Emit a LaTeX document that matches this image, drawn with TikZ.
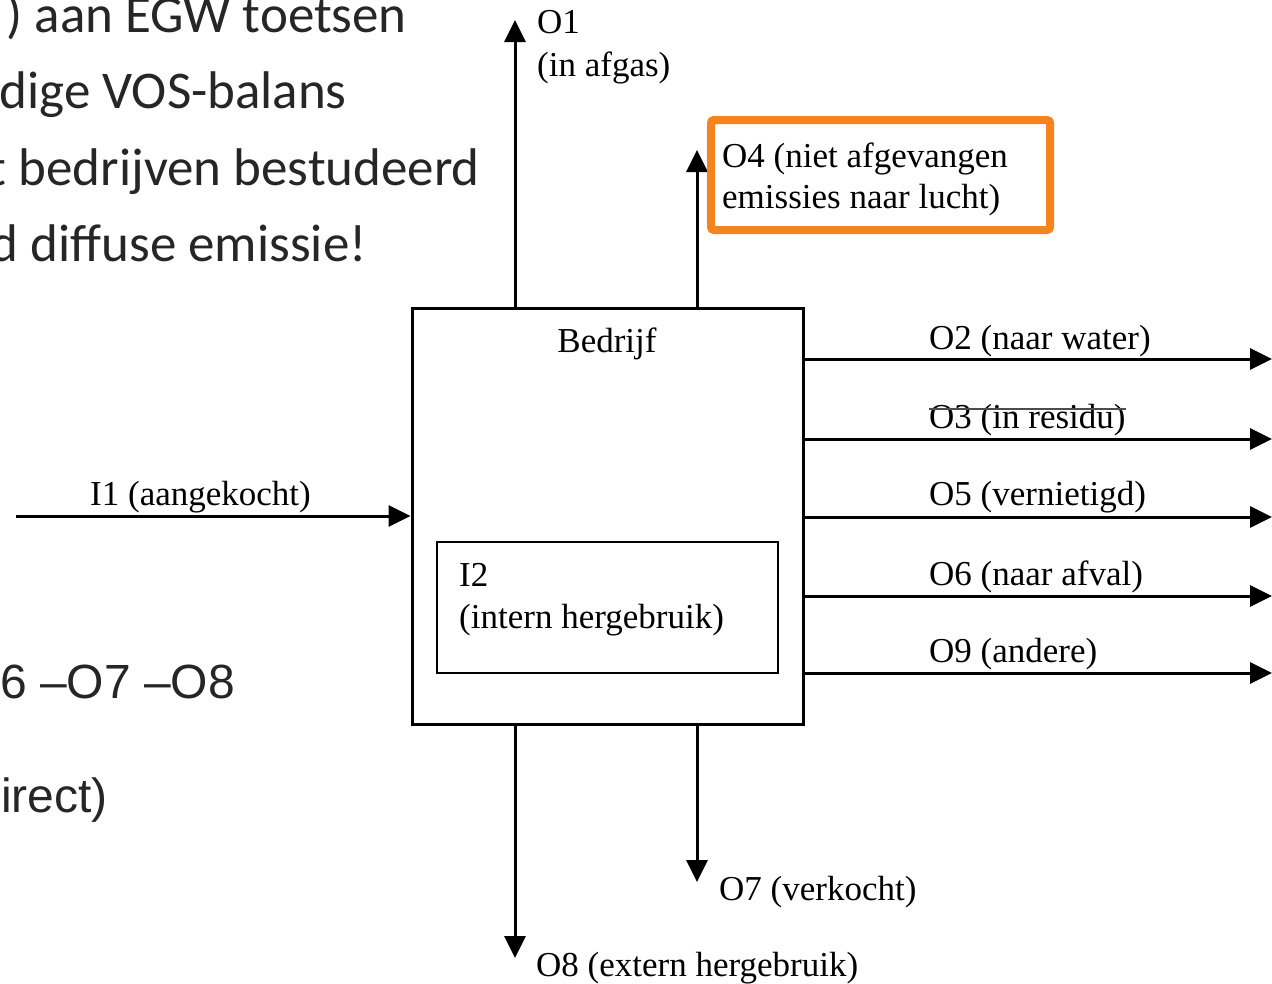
\documentclass[tikz,border=0pt]{standalone}
\usepackage{fontspec}
\setmainfont{Liberation Serif}
\newfontfamily\slidefont{Carlito}
\newfontfamily\slidesans{Liberation Sans}
\usetikzlibrary{arrows.meta}
\definecolor{markorange}{HTML}{F5841F}
\definecolor{slidegrey}{HTML}{262626}
\tikzstyle{box}=[draw, line width=3pt, inner sep=0pt]
\tikzstyle{flow}=[line width=3pt, -{Triangle[length=22pt, width=21pt]}]
\tikzstyle{lbl}=[anchor=base west, inner sep=0pt, font=\fontsize{35}{40}\selectfont]
\tikzstyle{slide}=[anchor=base east, inner sep=0pt, text=slidegrey, font=\slidefont\fontsize{53}{60}\selectfont]
\tikzstyle{slidea}=[anchor=base west, inner sep=0pt, text=slidegrey, font=\slidesans\fontsize{48}{56}\selectfont]

\begin{document}
\begin{tikzpicture}[x=1pt, y=-1pt]
        \useasboundingbox[fill=white] (0,0) rectangle (1272,983);
        % slide text behind the figure
        \node[slide] (s1) at (407, 32) {) aan EGW toetsen};
        \node[slide] (s2) at (347, 108) {dige VOS-balans};
        \node[slide] (s3) at (480, 185) {t bedrijven bestudeerd};
        \node[slide] (s4) at (367, 261) {d diffuse emissie!};
        \node[slidea] (s5) at (0, 698) {6 –O7 –O8};
        \node[slidea] (s6) at (1, 812) {irect)};
        % company and internal reuse
        \node[box, minimum width=391pt, minimum height=416pt] (bedrijf) at (607.5, 516) {};
        \node[box, line width=2.5pt, minimum width=341pt, minimum height=131pt] (intern) at (607.5, 607.5) {};
        \node[lbl, anchor=base] (bname) at (607, 352) {Bedrijf};
        \node[lbl] (i2) at (459, 586) {I2};
        \node[lbl] (i2b) at (459, 628) {(intern hergebruik)};
        % free ends of the flows
        \coordinate (i1) at (16, 516);
        \coordinate (o1) at (515, 20);
        \coordinate (o4) at (697, 150);
        \coordinate (o2) at (1272, 359);
        \coordinate (o3) at (1272, 439);
        \coordinate (o5) at (1272, 517);
        \coordinate (o6) at (1272, 596);
        \coordinate (o9) at (1272, 673);
        \coordinate (o7) at (697, 882);
        \coordinate (o8) at (515, 958);
        \draw[flow] (i1) -- (bedrijf.west);
        \draw[flow] (bedrijf.north -| o1) -- (o1);
        \draw[flow] (bedrijf.north -| o4) -- (o4);
        \draw[flow] (bedrijf.east |- o2) -- (o2);
        \draw[flow] (bedrijf.east |- o3) -- (o3);
        \draw[flow] (bedrijf.east |- o5) -- (o5);
        \draw[flow] (bedrijf.east |- o6) -- (o6);
        \draw[flow] (bedrijf.east |- o9) -- (o9);
        \draw[flow] (bedrijf.south -| o7) -- (o7);
        \draw[flow] (bedrijf.south -| o8) -- (o8);
        % labels
        \node[lbl] (li1) at (90, 505) {I1 (aangekocht)};
        \node[lbl] (lo1) at (537, 33) {O1};
        \node[lbl] (lo1b) at (537, 76) {(in afgas)};
        \node[lbl] (lo4) at (722, 167) {O4 (niet afgevangen};
        \node[lbl] (lo4b) at (722, 208) {emissies naar lucht)};
        \node[lbl] (lo2) at (929, 349) {O2 (naar water)};
        \node[lbl] (lo3) at (929, 428) {O3 (in residu)};
        \node[lbl] (lo5) at (929, 505) {O5 (vernietigd)};
        \node[lbl] (lo6) at (929, 585) {O6 (naar afval)};
        \node[lbl] (lo9) at (929, 662) {O9 (andere)};
        \node[lbl] (lo7) at (719, 900) {O7 (verkocht)};
        \node[lbl] (lo8) at (536, 976) {O8 (extern hergebruik)};
        \draw[line width=1.5pt, black!70] (lo3.west |- 0,409) -- (lo3.east |- 0,409);
        % highlight round O4
        \draw[markorange, line width=8pt, rounded corners=3pt] (711, 120) rectangle (1050, 230);
    \end{tikzpicture}
\end{document}
